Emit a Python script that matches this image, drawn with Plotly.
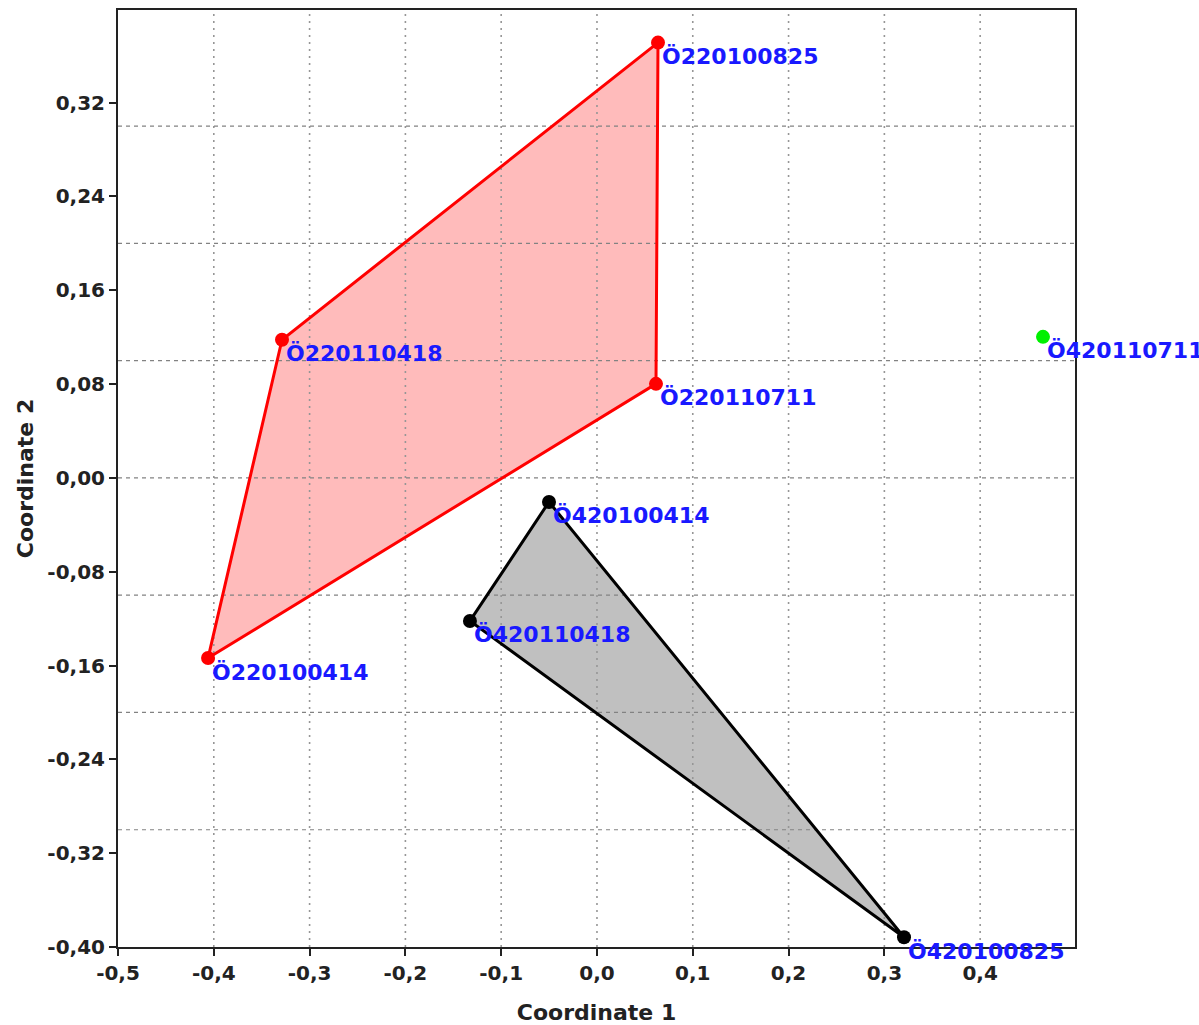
import numpy as np
import plotly.graph_objects as go

# Sample scores on the first two ordination coordinates
group_a_names = ["Ö220100825", "Ö220110711", "Ö220100414", "Ö220110418"]
group_a_x = [0.0637, 0.0616, -0.4060, -0.3288]
group_a_y = [0.3712, 0.0802, -0.1536, 0.1178]

group_b_names = ["Ö420100414", "Ö420100825", "Ö420110418"]
group_b_x = [-0.0501, 0.3205, -0.1326]
group_b_y = [-0.0205, -0.3917, -0.1220]

single_names = ["Ö420110711"]
single_x = [0.4656]
single_y = [0.1203]

# Tick positions (labels use a decimal comma and a plain hyphen for negatives)
x_tick_vals = [-0.5, -0.4, -0.3, -0.2, -0.1, 0.0, 0.1, 0.2, 0.3, 0.4]
y_tick_vals = [-0.40, -0.32, -0.24, -0.16, -0.08, 0.00, 0.08, 0.16, 0.24, 0.32]
x_tick_text = [f"{v:.1f}".replace(".", ",") for v in x_tick_vals]
y_tick_text = [f"{v:.2f}".replace(".", ",") for v in y_tick_vals]

FONT = "DejaVu Sans"
TICK_COLOR = "#222222"

fig = go.Figure()

# Convex hull fills (closed polygons)
def closed(v):
    return list(v) + [v[0]]

fig.add_trace(go.Scatter(
    x=closed(group_a_x), y=closed(group_a_y), mode="lines",
    fill="toself", fillcolor="rgb(255,187,187)", line=dict(width=0),
    hoverinfo="skip", showlegend=False))
fig.add_trace(go.Scatter(
    x=closed(group_b_x), y=closed(group_b_y), mode="lines",
    fill="toself", fillcolor="rgb(192,192,192)", line=dict(width=0),
    hoverinfo="skip", showlegend=False))

# Grid drawn on top of the hull fills
x_range = [-0.5, 0.499]
y_range = [-0.40, 0.399]
for gx in np.round(np.arange(-0.4, 0.41, 0.1), 2):
    fig.add_trace(go.Scatter(
        x=[gx, gx], y=y_range, mode="lines",
        line=dict(color="rgb(150,150,150)", width=1.6, dash="2px,5px"),
        hoverinfo="skip", showlegend=False))
for gy in np.round(np.arange(-0.3, 0.31, 0.1), 2):
    fig.add_trace(go.Scatter(
        x=x_range, y=[gy, gy], mode="lines",
        line=dict(color="rgb(130,130,130)", width=1.2, dash="4px,4px"),
        hoverinfo="skip", showlegend=False))

# Hull outlines and points
fig.add_trace(go.Scatter(
    x=closed(group_a_x), y=closed(group_a_y), mode="lines",
    line=dict(color="rgb(255,0,0)", width=3), hoverinfo="skip", showlegend=False))
fig.add_trace(go.Scatter(
    x=closed(group_b_x), y=closed(group_b_y), mode="lines",
    line=dict(color="black", width=3), hoverinfo="skip", showlegend=False))

fig.add_trace(go.Scatter(
    x=group_a_x, y=group_a_y, mode="markers", text=group_a_names,
    marker=dict(color="rgb(255,0,0)", size=14), showlegend=False))
fig.add_trace(go.Scatter(
    x=group_b_x, y=group_b_y, mode="markers", text=group_b_names,
    marker=dict(color="black", size=14), showlegend=False))
fig.add_trace(go.Scatter(
    x=single_x, y=single_y, mode="markers", text=single_names,
    marker=dict(color="rgb(0,240,0)", size=14), showlegend=False, cliponaxis=False))

# Sample labels
for names, xs, ys in [(group_a_names, group_a_x, group_a_y),
                      (group_b_names, group_b_x, group_b_y),
                      (single_names, single_x, single_y)]:
    for n, xv, yv in zip(names, xs, ys):
        fig.add_annotation(
            x=xv, y=yv, text=n, showarrow=False,
            xanchor="left", yanchor="middle", xshift=2, yshift=-14,
            font=dict(family=FONT, size=22, color="rgb(25,25,255)", weight="bold"))

axis_common = dict(
    showgrid=False, zeroline=False, showline=True, linecolor="#222222",
    linewidth=2, mirror=True, ticks="outside", ticklen=7, tickwidth=2,
    tickcolor="#222222", automargin=False,
    tickfont=dict(family=FONT, size=20, color=TICK_COLOR, weight="bold"),
)

fig.update_layout(
    width=1199, height=1025,
    margin=dict(l=118, r=124, t=10, b=78),
    plot_bgcolor="white", paper_bgcolor="white",
    xaxis=dict(range=x_range, tickmode="array", tickvals=x_tick_vals,
               ticktext=x_tick_text,
               title=dict(text="Coordinate 1", standoff=22,
                          font=dict(family=FONT, size=22, color=TICK_COLOR, weight="bold")),
               **axis_common),
    yaxis=dict(range=y_range, tickmode="array", tickvals=y_tick_vals,
               ticktext=y_tick_text,
               title=dict(text="Coordinate 2", standoff=8,
                          font=dict(family=FONT, size=22, color=TICK_COLOR, weight="bold")),
               **axis_common),
)

fig.write_html("out.html")
